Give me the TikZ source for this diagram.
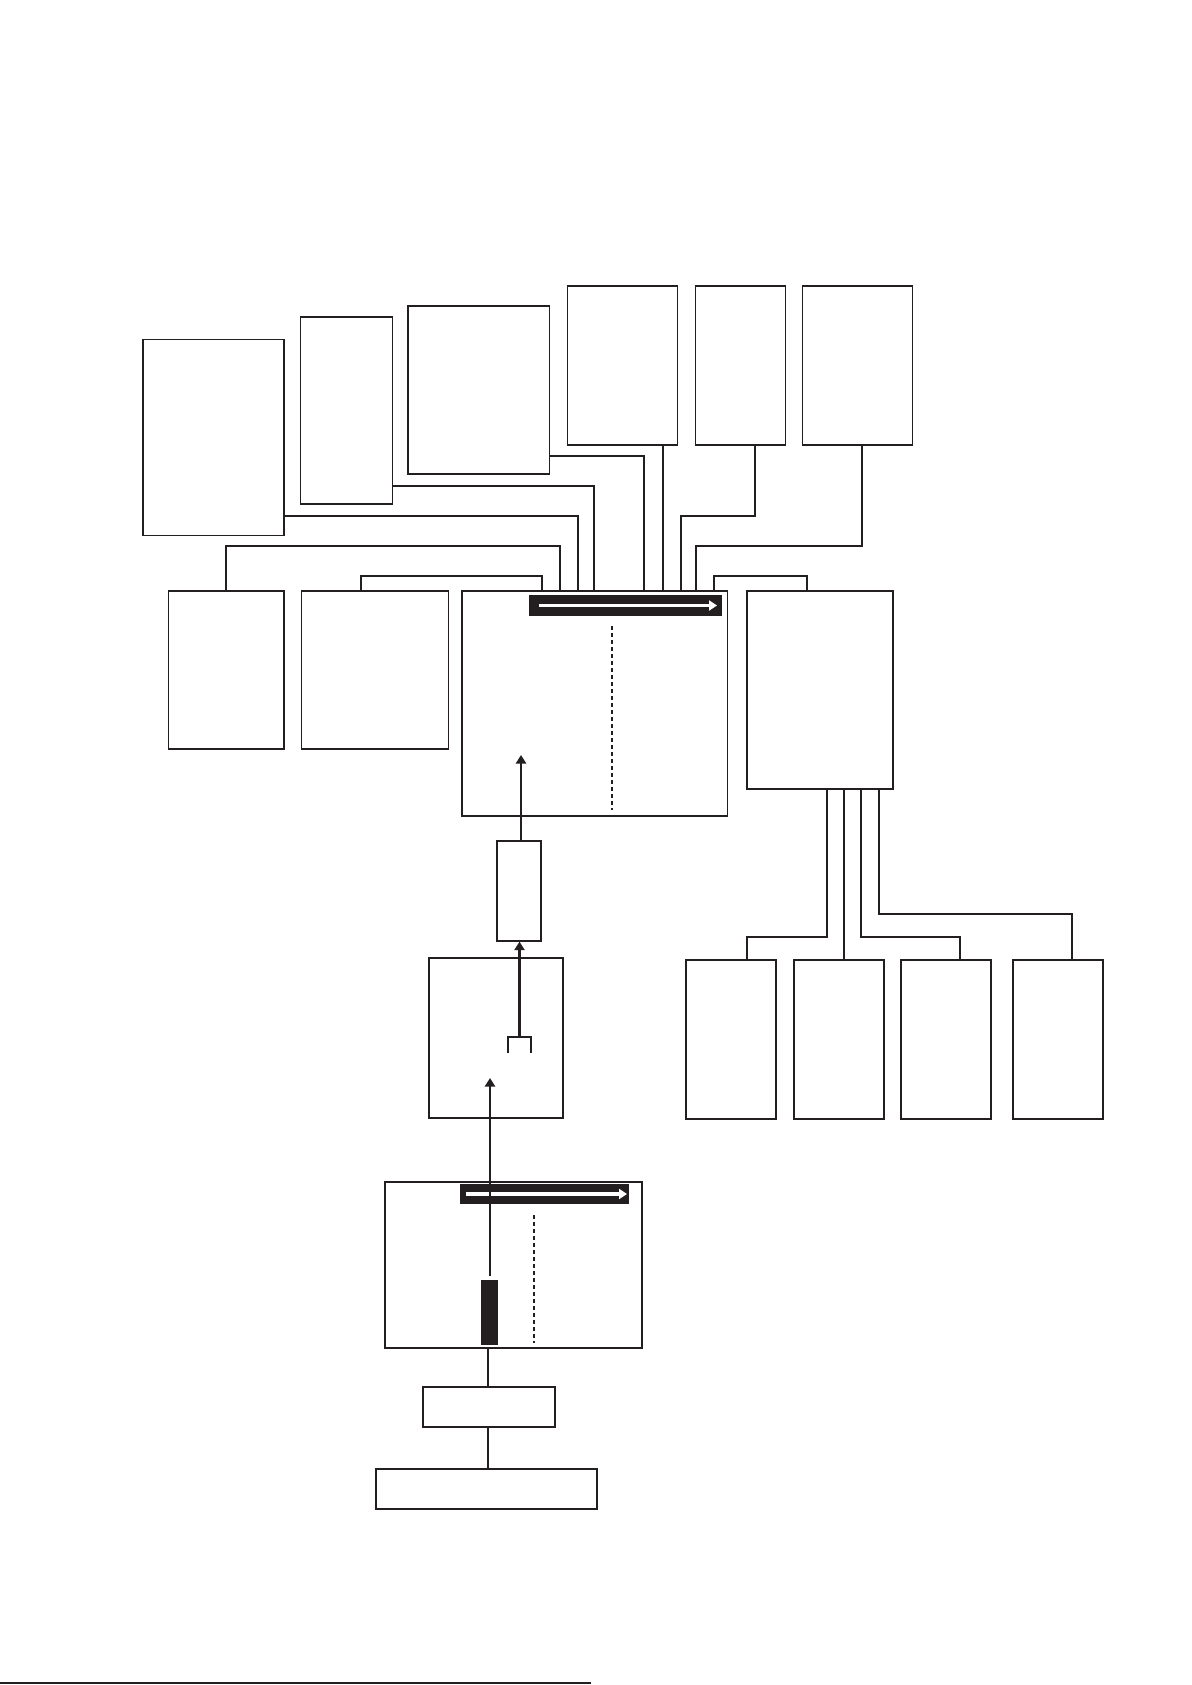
\documentclass[tikz,border=0pt]{standalone}
\usepackage{tikz}
\usetikzlibrary{arrows.meta}
\definecolor{ink}{RGB}{35,31,32}

\begin{document}
\begin{tikzpicture}[x=1pt, y=-1pt, box/.style={draw=ink, line width=1.2pt, inner sep=0pt}, link/.style={draw=ink, line width=2pt}, wire/.style={draw=ink, line width=1.2pt}, guide/.style={draw=ink, line width=1.8pt, dash pattern=on 4pt off 3pt}, >={Triangle[length=8.5pt, width=10pt]}]
	\useasboundingbox (0,0) rectangle (1191,1685);
	% upper units
	\foreach \n/\x/\y/\w/\h in {a/213.5/437.5/141/196, b/346.3/410.5/92/187, c/478.8/390/141.5/168, d/622.5/365.5/110/159, e/740.5/365.5/90/159, f/857.5/365.5/110/159} {\node[box, minimum width=\w pt, minimum height=\h pt] (\n) at (\x,\y) {};}
	\foreach \n/\x/\y/\w/\h in {g/226.3/670/115.5/158, h/375/670/147/158, m/594.8/703.5/265.5/225, j/820/690/146/198} {\node[box, minimum width=\w pt, minimum height=\h pt] (\n) at (\x,\y) {};}
	\foreach \n/\x in {1/731, 2/839, 3/946, 4/1058} {\node[box, minimum width=90pt, minimum height=159pt] (out\n) at (\x,1039.5) {};}
	\node[box, minimum width=44pt, minimum height=100pt] (k) at (519,891) {};
	\node[box, minimum width=134pt, minimum height=160pt] (l) at (496,1038) {};
	\node[box, minimum width=257pt, minimum height=166pt] (n) at (513.5,1265) {};
	\node[box, minimum width=132pt, minimum height=40pt] (s) at (489,1407) {};
	\node[box, minimum width=221pt, minimum height=40pt] (t) at (486.5,1489) {};
	% bars and marks inside
	\fill[ink] (529,595) rectangle (722,616);
	\draw[white, line width=3.5pt, -{Triangle[length=8pt, width=10pt]}] (539,605.5) -- (717,605.5);
	\fill[ink] (460,1184) rectangle (629,1204);
	\draw[white, line width=3.5pt, -{Triangle[length=8pt, width=10pt]}] (466,1194) -- (627,1194);
	\fill[ink] (481,1280) rectangle (498,1345);
	\draw[guide] (612,626) -- (612,810);
	\draw[guide] (534,1215) -- (534,1343);
	% lines into m
	\draw[link] (a.east |- 0,516) -| (578,0 |- m.north);
	\draw[link] (b.east |- 0,486) -| (594,0 |- m.north);
	\draw[link] (c.east |- 0,456) -| (644,0 |- m.north);
	\draw[link] (663,0 |- d.south) -- (663,0 |- m.north);
	\draw[link] (754.5,0 |- e.south) |- (681,516) -- (681,0 |- m.north);
	\draw[link] (862,0 |- f.south) |- (696,546) -- (696,0 |- m.north);
	\draw[link] (g.north) |- (560,546) -- (560,0 |- m.north);
	\draw[link] (361,0 |- h.north) |- (541.8,576) -- (541.8,0 |- m.north);
	\draw[link] (714,0 |- m.north) |- (807,576) -- (807,0 |- j.north);
	% lines out of j
	\draw[link] (827,0 |- j.south) |- (747,937) -- (747,0 |- out1.north);
	\draw[link] (844,0 |- j.south) -- (844,0 |- out2.north);
	\draw[link] (861,0 |- j.south) |- (960,937) -- (960,0 |- out3.north);
	\draw[link] (879,0 |- j.south) |- (1072,914) -- (1072,0 |- out4.north);
	% signal path
	\coordinate (fork) at (519.5,1037);
	\coordinate (tap) at (490,1276);
	\draw[link, line width=2.3pt, ->] (521,0 |- k.north) -- (521,755);
	\draw[link, line width=2.3pt, ->] (fork) -- (fork |- k.south);
	\draw[link] ([xshift=-11.5pt, yshift=-16pt]fork) -- ([xshift=-11.5pt]fork) -- ([xshift=11.5pt]fork) -- ([xshift=11.5pt, yshift=-16pt]fork);
	\draw[link, line width=2.3pt, ->] (tap) -- (490,1078);
	\draw[wire] (488,0 |- n.south) -- (488,0 |- s.north);
	\draw[wire] (488,0 |- s.south) -- (488,0 |- t.north);
	\draw[ink, line width=1.2pt] (0,1683) -- (591,1683);
\end{tikzpicture}
\end{document}
